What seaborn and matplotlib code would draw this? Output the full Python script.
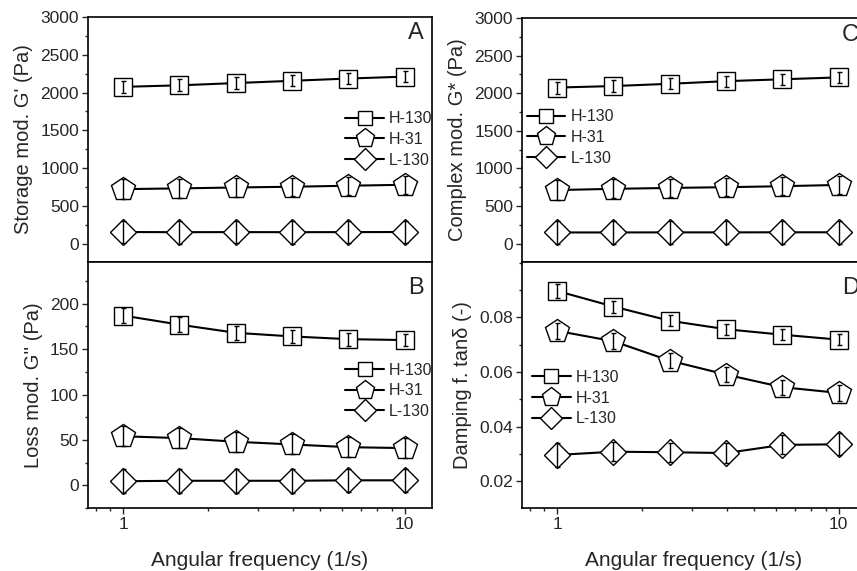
import matplotlib
matplotlib.use("Agg")
import matplotlib.pyplot as plt
import seaborn as sns
import pandas as pd
from matplotlib.lines import Line2D
from matplotlib.ticker import FixedLocator, NullFormatter, MultipleLocator

# ---------------- data ----------------
freq = [1.0, 1.585, 2.512, 3.981, 6.310, 10.0]
samples = ["H-130", "H-31", "L-130"]

# Panel A: storage modulus G' (Pa)
gp_h130 = [2075, 2095, 2125, 2155, 2185, 2210]
gp_h31 = [720, 730, 742, 752, 765, 778]
gp_l130 = [152, 150, 151, 150, 151, 152]
gp_h130_err = [80, 80, 75, 75, 75, 75]
gp_h31_err = [130, 125, 125, 120, 120, 120]
gp_l130_err = [150, 150, 150, 150, 150, 150]

# Panel B: loss modulus G'' (Pa)
gpp_h130 = [187, 177, 168, 164, 161, 160]
gpp_h31 = [54, 52, 48, 45, 42, 41]
gpp_l130 = [4.5, 5, 5, 5, 5.5, 5.5]
gpp_h130_err = [8.5, 8, 7.5, 7, 7, 7]
gpp_h31_err = [11, 11, 11, 11, 11, 11]
gpp_l130_err = [13, 13, 13, 13, 13, 13]

# Panel C: complex modulus G* (Pa)
gs_h130 = [2075, 2095, 2125, 2160, 2185, 2210]
gs_h31 = [712, 728, 740, 750, 763, 780]
gs_l130 = [148, 148, 149, 149, 150, 150]
gs_h130_err = [80, 80, 75, 75, 75, 75]
gs_h31_err = [130, 125, 125, 120, 120, 120]
gs_l130_err = [150, 150, 150, 150, 150, 150]

# Panel D: damping factor tan(delta)
td_h130 = [0.0897, 0.0840, 0.0788, 0.0757, 0.0737, 0.0719]
td_h31 = [0.0751, 0.0713, 0.0642, 0.0591, 0.0545, 0.0524]
td_l130 = [0.0297, 0.0309, 0.0307, 0.0304, 0.0334, 0.0336]
td_h130_err = [0.0024, 0.0022, 0.0020, 0.0020, 0.0020, 0.0020]
td_h31_err = [0.0030, 0.0030, 0.0028, 0.0028, 0.0028, 0.0028]
td_l130_err = [0.0043, 0.0035, 0.0035, 0.0035, 0.0035, 0.0040]

x_major = [1, 10]
x_major_labels = ["1", "10"]
x_minor = [0.8, 0.9, 2, 3, 4, 5, 6, 7, 8, 9]

# ---------------- style ----------------
sns.set_style("ticks")
plt.rcParams["font.family"] = ["Liberation Sans", "DejaVu Sans"]
plt.rcParams["axes.linewidth"] = 1.2
plt.rcParams["xtick.direction"] = "out"
plt.rcParams["ytick.direction"] = "out"

marker_style = {
    "H-130": dict(marker="s", ms=12.5),
    "H-31": dict(marker="p", ms=17.5),
    "L-130": dict(marker="D", ms=13),
}
legend_ms = {"H-130": 10.5, "H-31": 14, "L-130": 11}

W, H = 857, 571
fig = plt.figure(figsize=(W / 100, H / 100), dpi=100)


def fax(x0, y_top, w, h):
    return fig.add_axes([x0 / W, 1 - (y_top + h) / H, w / W, h / H])


axA = fax(88, 17, 344, 245)
axB = fax(88, 262, 344, 246)
axC = fax(522, 18, 344, 244)
axD = fax(522, 262, 344, 246)


def panel(ax, series, errs, ylim, yticks, yminor, ylabel, letter,
          letter_y, leg_loc, leg_anchor, bottom):
    for name, vals, err in zip(samples, series, errs):
        st = marker_style[name]
        sns.lineplot(x=freq, y=vals, ax=ax, color="black", lw=1.5,
                     marker=st["marker"], ms=st["ms"], mfc="white",
                     mec="black", mew=1.0, legend=False)
        ax.errorbar(freq, vals, yerr=err, fmt="none", ecolor="black",
                    elinewidth=1.0, capsize=1.8, capthick=1.0, zorder=5)
    ax.set_xscale("log")
    ax.set_xlim(0.75, 12.5)
    ax.xaxis.set_major_locator(FixedLocator(x_major))
    ax.xaxis.set_minor_locator(FixedLocator(x_minor))
    ax.xaxis.set_minor_formatter(NullFormatter())
    if bottom:
        ax.set_xticklabels(x_major_labels)
        ax.set_xlabel("Angular frequency (1/s)", fontsize=15, labelpad=14)
    else:
        ax.set_xticklabels([])
        ax.set_xlabel("")
    ax.set_ylim(*ylim)
    ax.yaxis.set_major_locator(FixedLocator(yticks))
    ax.yaxis.set_minor_locator(MultipleLocator(yminor))
    ax.set_ylabel(ylabel, fontsize=14.5, labelpad=5)
    ax.tick_params(axis="both", which="major", length=4.5, width=1.0,
                   labelsize=12.5, pad=2)
    ax.tick_params(axis="both", which="minor", length=2.5, width=1.0)
    for s in ax.spines.values():
        s.set_visible(True)
        s.set_color("black")
    ax.text(0.93, letter_y, letter, transform=ax.transAxes, fontsize=17,
            ha="left", va="center")
    handles = [Line2D([0], [0], color="black", lw=1.5,
                      marker=marker_style[n]["marker"], ms=legend_ms[n],
                      mfc="white", mec="black", mew=1.0) for n in samples]
    ax.legend(handles, samples, loc=leg_loc, bbox_to_anchor=leg_anchor,
              frameon=False, fontsize=11.5, handlelength=2.4,
              handletextpad=0.3, labelspacing=0.35, borderaxespad=0,
              borderpad=0)


panel(axA, [gp_h130, gp_h31, gp_l130], [gp_h130_err, gp_h31_err, gp_l130_err],
      (-245, 3000), [0, 500, 1000, 1500, 2000, 2500, 3000], 250,
      "Storage mod. G' (Pa)", "A", 0.935, "center right", (1.0, 0.50), False)
panel(axB, [gpp_h130, gpp_h31, gpp_l130], [gpp_h130_err, gpp_h31_err, gpp_l130_err],
      (-25, 246), [0, 50, 100, 150, 200], 25,
      "Loss mod. G'' (Pa)", "B", 0.894, "center right", (1.0, 0.476), True)
panel(axC, [gs_h130, gs_h31, gs_l130], [gs_h130_err, gs_h31_err, gs_l130_err],
      (-245, 3000), [0, 500, 1000, 1500, 2000, 2500, 3000], 250,
      "Complex mod. G* (Pa)", "C", 0.93, "center left", (0.015, 0.51), False)
panel(axD, [td_h130, td_h31, td_l130], [td_h130_err, td_h31_err, td_l130_err],
      (0.0103, 0.1003), [0.02, 0.04, 0.06, 0.08], 0.01,
      "Damping f. tan\u03b4 (-)", "D", 0.894, "center left", (0.03, 0.447), True)

fig.savefig("out.png", dpi=100)
